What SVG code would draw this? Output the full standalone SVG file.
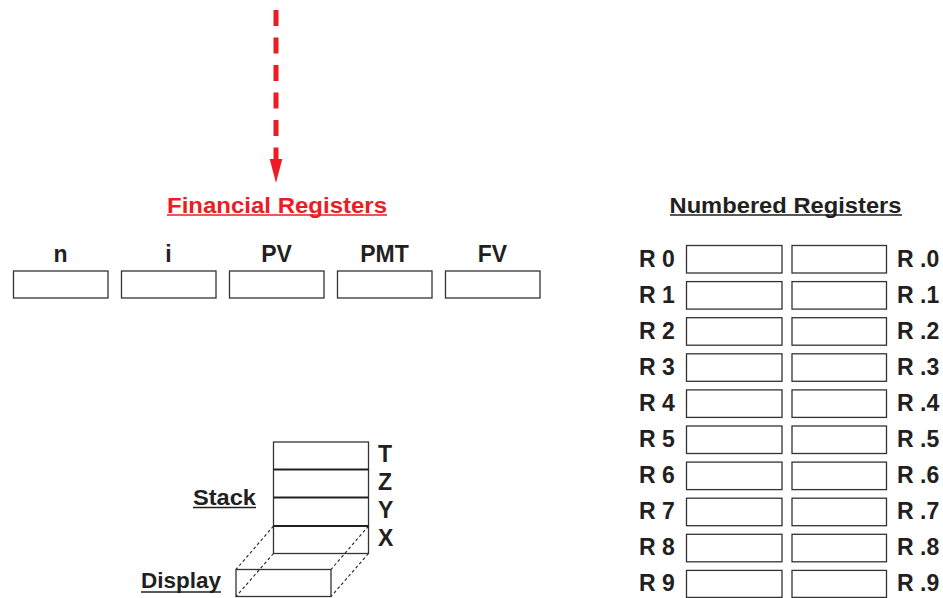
<svg xmlns="http://www.w3.org/2000/svg" width="943" height="598" viewBox="0 0 943 598">
  <style>
    .lbl { font-family: "Liberation Sans", Arial, sans-serif; font-weight: bold; font-size: 23px; fill: #231f20; }
    .ttl { font-family: "Liberation Sans", Arial, sans-serif; font-weight: bold; font-size: 22px; fill: #231f20; }
    .red { fill: #ed1c24; }
    .reg { fill: #ffffff; stroke: #333333; stroke-width: 1.3; }
    .sep { stroke: #231f20; stroke-width: 2; }
    .ul { stroke: #231f20; stroke-width: 1.7; }
    .ulr { stroke: #ed1c24; stroke-width: 1.7; }
    .hid { stroke: #231f20; stroke-width: 1.1; stroke-dasharray: 3 2.5; fill: none; }
  </style>
  <defs>
    <marker id="redHead" markerUnits="userSpaceOnUse" markerWidth="26" markerHeight="14" refX="0" refY="6.3" orient="auto" overflow="visible">
      <path d="M0,0 L24,6.3 L0,12.6 z" fill="#ed1c24"/>
    </marker>
  </defs>

  <rect width="943" height="598" fill="#ffffff"/>

  <!-- flow into the financial registers -->
  <g id="connectors">
    <line x1="276" y1="10" x2="276" y2="159" stroke="#ed1c24" stroke-width="5" stroke-dasharray="16 11.5" marker-end="url(#redHead)"/>
  </g>

  <!-- financial registers -->
  <g id="financial-title">
    <text class="ttl red" x="277" y="212.5" text-anchor="middle" textLength="220" lengthAdjust="spacingAndGlyphs">Financial Registers</text>
    <line class="ulr" x1="167" y1="215" x2="387" y2="215"/>
  </g>
  <g id="reg-n">
    <text class="lbl" x="60.5" y="262" text-anchor="middle">n</text>
    <rect class="reg" x="13.5" y="271" width="94.5" height="27"/>
  </g>
  <g id="reg-i">
    <text class="lbl" x="168.5" y="262" text-anchor="middle">i</text>
    <rect class="reg" x="121.5" y="271" width="94.5" height="27"/>
  </g>
  <g id="reg-pv">
    <text class="lbl" x="276.5" y="262" text-anchor="middle">PV</text>
    <rect class="reg" x="229.5" y="271" width="94.5" height="27"/>
  </g>
  <g id="reg-pmt">
    <text class="lbl" x="384.5" y="262" text-anchor="middle">PMT</text>
    <rect class="reg" x="337.5" y="271" width="94.5" height="27"/>
  </g>
  <g id="reg-fv">
    <text class="lbl" x="492.5" y="262" text-anchor="middle">FV</text>
    <rect class="reg" x="445.5" y="271" width="94.5" height="27"/>
  </g>

  <!-- numbered registers -->
  <g id="numbered-title">
    <text class="ttl" x="785.5" y="212.5" text-anchor="middle" textLength="232" lengthAdjust="spacingAndGlyphs">Numbered Registers</text>
    <line class="ul" x1="670" y1="215" x2="902" y2="215"/>
  </g>
  <g id="r0"><text class="lbl" x="639" y="266.5">R 0</text><rect class="reg" x="686.5" y="245.5" width="95.5" height="27.5"/><rect class="reg" x="792" y="245.5" width="94.5" height="27.5"/><text class="lbl" x="897" y="266.5">R .0</text></g>
  <g id="r1"><text class="lbl" x="639" y="302.6">R 1</text><rect class="reg" x="686.5" y="281.6" width="95.5" height="27.5"/><rect class="reg" x="792" y="281.6" width="94.5" height="27.5"/><text class="lbl" x="897" y="302.6">R .1</text></g>
  <g id="r2"><text class="lbl" x="639" y="338.7">R 2</text><rect class="reg" x="686.5" y="317.7" width="95.5" height="27.5"/><rect class="reg" x="792" y="317.7" width="94.5" height="27.5"/><text class="lbl" x="897" y="338.7">R .2</text></g>
  <g id="r3"><text class="lbl" x="639" y="374.8">R 3</text><rect class="reg" x="686.5" y="353.8" width="95.5" height="27.5"/><rect class="reg" x="792" y="353.8" width="94.5" height="27.5"/><text class="lbl" x="897" y="374.8">R .3</text></g>
  <g id="r4"><text class="lbl" x="639" y="410.9">R 4</text><rect class="reg" x="686.5" y="389.9" width="95.5" height="27.5"/><rect class="reg" x="792" y="389.9" width="94.5" height="27.5"/><text class="lbl" x="897" y="410.9">R .4</text></g>
  <g id="r5"><text class="lbl" x="639" y="447">R 5</text><rect class="reg" x="686.5" y="426" width="95.5" height="27.5"/><rect class="reg" x="792" y="426" width="94.5" height="27.5"/><text class="lbl" x="897" y="447">R .5</text></g>
  <g id="r6"><text class="lbl" x="639" y="483.1">R 6</text><rect class="reg" x="686.5" y="462.1" width="95.5" height="27.5"/><rect class="reg" x="792" y="462.1" width="94.5" height="27.5"/><text class="lbl" x="897" y="483.1">R .6</text></g>
  <g id="r7"><text class="lbl" x="639" y="519.2">R 7</text><rect class="reg" x="686.5" y="498.2" width="95.5" height="27.5"/><rect class="reg" x="792" y="498.2" width="94.5" height="27.5"/><text class="lbl" x="897" y="519.2">R .7</text></g>
  <g id="r8"><text class="lbl" x="639" y="555.3">R 8</text><rect class="reg" x="686.5" y="534.3" width="95.5" height="27.5"/><rect class="reg" x="792" y="534.3" width="94.5" height="27.5"/><text class="lbl" x="897" y="555.3">R .8</text></g>
  <g id="r9"><text class="lbl" x="639" y="591.4">R 9</text><rect class="reg" x="686.5" y="570.4" width="95.5" height="27"/><rect class="reg" x="792" y="570.4" width="94.5" height="27"/><text class="lbl" x="897" y="591.4">R .9</text></g>

  <!-- stack -->
  <g id="stack">
    <text class="ttl" x="224.5" y="504.5" text-anchor="middle" textLength="63" lengthAdjust="spacingAndGlyphs">Stack</text>
    <line class="ul" x1="193" y1="507.5" x2="256" y2="507.5"/>
    <rect class="reg" x="273.5" y="442" width="95" height="111.5"/>
    <line class="sep" x1="273.5" y1="469.5" x2="368.5" y2="469.5"/>
    <line class="sep" x1="273.5" y1="497.5" x2="368.5" y2="497.5"/>
    <line class="sep" x1="273.5" y1="526" x2="368.5" y2="526"/>
    <text class="lbl" x="378" y="462">T</text>
    <text class="lbl" x="378" y="490">Z</text>
    <text class="lbl" x="378" y="518">Y</text>
    <text class="lbl" x="378" y="546">X</text>
  </g>

  <!-- display, projected from the X register -->
  <g id="display">
    <text class="ttl" x="181" y="587.5" text-anchor="middle" textLength="80" lengthAdjust="spacingAndGlyphs">Display</text>
    <line class="ul" x1="141" y1="592" x2="221" y2="592"/>
    <rect class="reg" x="236" y="569.5" width="95" height="27"/>
    <line class="hid" x1="273.5" y1="526" x2="236" y2="569.5"/>
    <line class="hid" x1="368.5" y1="526" x2="331" y2="569.5"/>
    <line class="hid" x1="273.5" y1="553.5" x2="236" y2="596.5"/>
    <line class="hid" x1="368.5" y1="553.5" x2="331" y2="596.5"/>
  </g>
</svg>
